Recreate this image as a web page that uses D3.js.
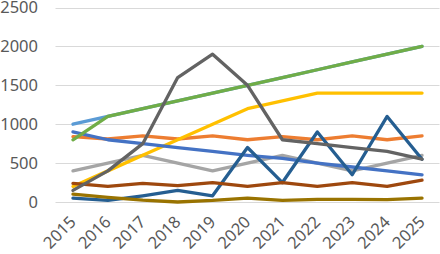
<!DOCTYPE html>
<html>
<head>
<meta charset="utf-8">
<script src="https://cdn.jsdelivr.net/npm/d3@7"></script>
<style>
  body { margin: 0; background: #fff; }
  svg { display: block; }
  text { font-family: "Noto Sans", sans-serif; fill: #595959; }
</style>
</head>
<body>
<svg id="chart" width="440" height="254"></svg>
<script>
const years = ["2015","2016","2017","2018","2019","2020","2021","2022","2023","2024","2025"]
const yTicks = [0, 500, 1000, 1500, 2000, 2500]

// series in drawing order (later ones on top)
const s1 = [1000, 1100, 1200, 1300, 1400, 1500, 1600, 1700, 1800, 1900, 2000]
const s2 = [840, 810, 850, 810, 850, 800, 840, 800, 850, 800, 850]
const s3 = [400, 500, 600, 500, 400, 500, 600, 500, 400, 500, 600]
const s4 = [200, 400, 600, 800, 1000, 1200, 1300, 1400, 1400, 1400, 1400]
const s5 = [900, 800, 750, 700, 650, 600, 560, 500, 450, 400, 350]
const s6 = [800, 1100, 1200, 1300, 1400, 1500, 1600, 1700, 1800, 1900, 2000]
const s7 = [50, 20, 80, 150, 80, 700, 250, 900, 350, 1100, 550]
const s8 = [240, 200, 240, 210, 250, 200, 250, 200, 250, 200, 280]
const s9 = [150, 400, 750, 1600, 1900, 1500, 800, 750, 700, 650, 550]
const s10 = [100, 60, 25, 0, 20, 50, 20, 35, 35, 30, 50]

const seriesList = [s1, s2, s3, s4, s5, s6, s7, s8, s9, s10]
const colors = ["#5B9BD5", "#ED7D31", "#A5A5A5", "#FFC000", "#4472C4",
                "#70AD47", "#255E91", "#9E480E", "#636363", "#997300"]

const svg = d3.select("#chart")

const x = d3.scalePoint()
  .domain(years)
  .range([55.5, 439.5])
  .padding(0.5)

const y = d3.scaleLinear()
  .domain([0, 2500])
  .range([202, 7.5])

// gridlines
svg.append("g")
  .selectAll("line")
  .data(yTicks)
  .enter().append("line")
    .attr("x1", 55.5)
    .attr("x2", 439.5)
    .attr("y1", d => Math.round(y(d)) + 0.5)
    .attr("y2", d => Math.round(y(d)) + 0.5)
    .attr("stroke", "#d9d9d9")
    .attr("stroke-width", 1)

// y labels
svg.append("g")
  .selectAll("text")
  .data(yTicks)
  .enter().append("text")
    .attr("x", 38)
    .attr("y", d => y(d))
    .attr("dy", "0.36em")
    .attr("text-anchor", "end")
    .style("font-size", "16.5px")
    .text(d => d)

// x labels
svg.append("g")
  .selectAll("text")
  .data(years)
  .enter().append("text")
    .attr("text-anchor", "end")
    .attr("transform", d => `translate(${x(d) + 4},${223}) rotate(-45)`)
    .style("font-size", "16.5px")
    .text(d => d)

const line = d3.line()
  .x((d, i) => x(years[i]))
  .y(d => y(d))

svg.append("g")
  .selectAll("path")
  .data(seriesList)
  .enter().append("path")
    .attr("d", line)
    .attr("fill", "none")
    .attr("stroke", (d, i) => colors[i])
    .attr("stroke-width", 3.3)
    .attr("stroke-linejoin", "round")
    .attr("stroke-linecap", "round")
</script>
</body>
</html>
